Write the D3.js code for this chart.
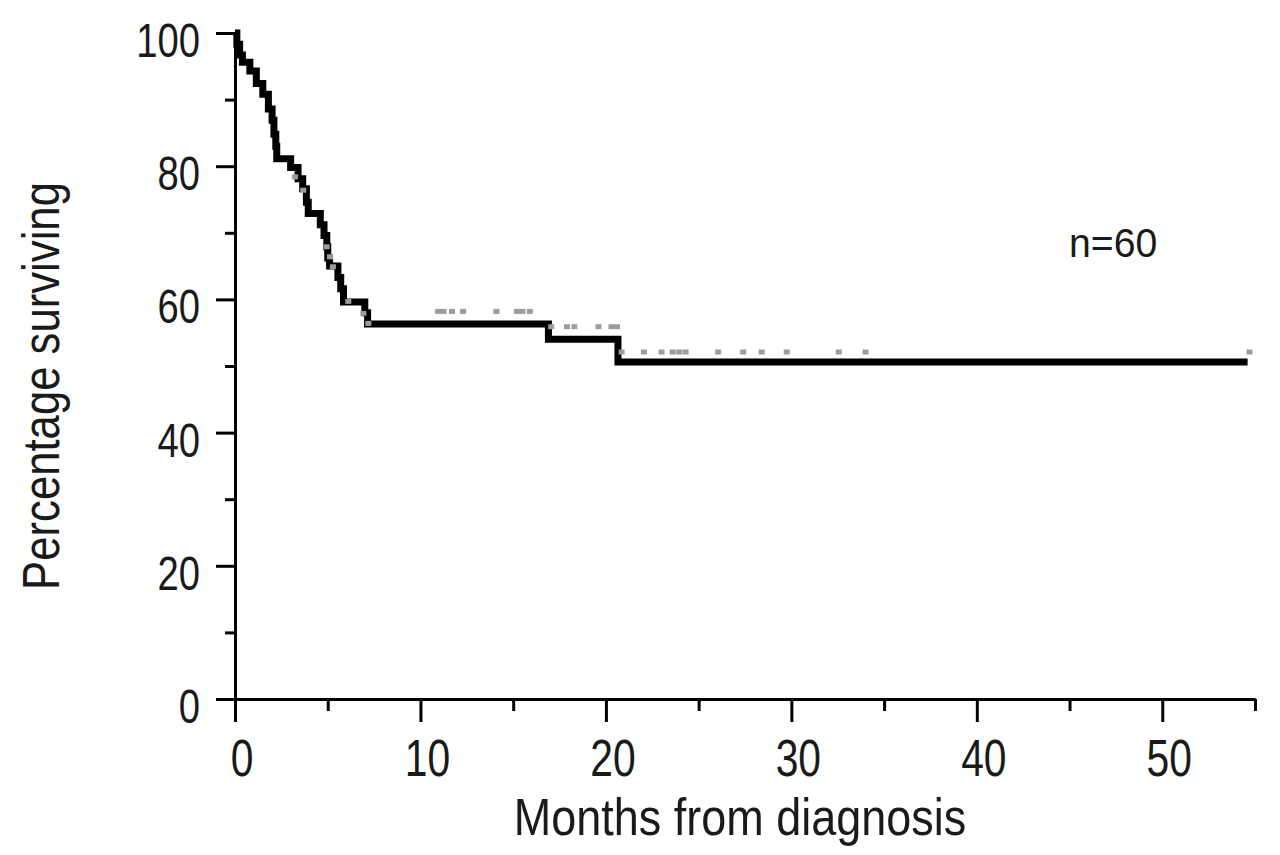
<!DOCTYPE html>
<html><head><meta charset="utf-8">
<script src="https://cdn.jsdelivr.net/npm/d3@7"></script>
<style>body{margin:0;background:#fff} svg{display:block}</style>
</head><body><svg id="c" width="1280" height="855"></svg>
<script>
// ---- data ----
const stepTimes  = [0, 0.1, 0.25, 0.4, 0.8, 1.15, 1.5, 1.8, 2.0, 2.1, 2.2, 2.25, 3.0, 3.4, 3.65, 3.85, 3.95, 4.6, 4.8, 4.95, 5.0, 5.1, 5.55, 5.7, 5.85, 7.0, 7.15, 16.9, 20.65, 54.6];
const stepValues = [100, 98.3, 96.7, 95.6, 94.3, 92.4, 90.8, 88.6, 86.9, 84.8, 83.0, 81.1, 79.8, 78.1, 76.6, 74.6, 72.9, 71.2, 69.6, 67.9, 66.2, 65.0, 63.3, 61.6, 59.6, 58.0, 56.3, 54.0, 50.6, 50.6];
const censorTimes  = [3.24, 3.68, 4.94, 5.12, 5.28, 6.11, 6.92, 7.19,
                      10.95, 11.25, 11.7, 12.3, 14.1, 15.2, 15.5, 15.9,
                      17.05, 17.9, 18.3, 19.6, 20.3, 20.6,
                      20.85, 22.05, 23.0, 23.6, 23.95, 24.3, 26.05, 27.4, 28.4, 29.75, 32.55, 34.0, 54.7];
const censorValues = [78.4, 76.4, 67.9, 66.4, 64.9, 59.7, 57.9, 56.4,
                      58.2, 58.2, 58.2, 58.2, 58.2, 58.2, 58.2, 58.2,
                      55.9, 55.9, 55.9, 55.9, 55.9, 55.9,
                      52.1, 52.1, 52.1, 52.1, 52.1, 52.1, 52.1, 52.1, 52.1, 52.1, 52.1, 52.1, 52.1];
const xMajorTicks = [0, 10, 20, 30, 40, 50];
const xMinorTicks = [5, 15, 25, 35, 45, 55];
const yMajorTicks = [0, 20, 40, 60, 80, 100];
const yMinorTicks = [10, 30, 50, 70, 90];
const xTitle = "Months from diagnosis";
const yTitle = "Percentage surviving";
const annotation = "n=60";

// ---- drawing ----
const svg = d3.select("#c");
const x = d3.scaleLinear().domain([0, 55]).range([235, 1255]);
const y = d3.scaleLinear().domain([0, 100]).range([699, 33]);
const font = "'Liberation Sans',Arial,Helvetica,sans-serif";

function styleAxis(g) {
  g.selectAll("path.domain").attr("stroke", "#000").attr("stroke-width", 3);
  g.selectAll(".tick line").attr("stroke", "#000").attr("stroke-width", 3);
  g.selectAll("text").remove();
}

// x axis
svg.append("g").attr("transform", `translate(0,${y(0)})`)
  .call(d3.axisBottom(x).tickValues(xMinorTicks).tickSize(12).tickSizeOuter(0))
  .call(styleAxis);
svg.append("g").attr("transform", `translate(0,${y(0)})`)
  .call(d3.axisBottom(x).tickValues(xMajorTicks).tickSize(23).tickSizeOuter(0))
  .call(styleAxis);
// y axis
svg.append("g").attr("transform", `translate(${x(0)},0)`)
  .call(d3.axisLeft(y).tickValues(yMinorTicks).tickSize(10).tickSizeOuter(0))
  .call(styleAxis);
svg.append("g").attr("transform", `translate(${x(0)},0)`)
  .call(d3.axisLeft(y).tickValues(yMajorTicks).tickSize(19).tickSizeOuter(0))
  .call(styleAxis);

// tick labels (condensed look via horizontal scaling)
svg.append("g").selectAll("text").data(xMajorTicks).join("text")
  .attr("transform", d => `translate(${x(d) + 7},776) scale(0.8,1)`)
  .attr("text-anchor", "middle")
  .attr("font-family", font).attr("font-size", 51).attr("fill", "#1a1a1a")
  .text(d => d);
svg.append("g").selectAll("text").data(yMajorTicks).join("text")
  .attr("transform", d => `translate(200,${y(d) + 24}) scale(0.78,1)`)
  .attr("text-anchor", "end")
  .attr("font-family", font).attr("font-size", 49).attr("fill", "#1a1a1a")
  .text(d => d);

// titles
svg.append("text")
  .attr("transform", "translate(740,835) scale(0.865,1)")
  .attr("text-anchor", "middle")
  .attr("font-family", font).attr("font-size", 52).attr("fill", "#1a1a1a")
  .text(xTitle);
svg.append("text")
  .attr("transform", "translate(59,386) rotate(-90) scale(0.84,1)")
  .attr("text-anchor", "middle")
  .attr("font-family", font).attr("font-size", 52).attr("fill", "#1a1a1a")
  .text(yTitle);
svg.append("text")
  .attr("transform", "translate(1069,257) scale(0.98,1)")
  .attr("font-family", font).attr("font-size", 40).attr("fill", "#1a1a1a")
  .text(annotation);

// survival curve
const pts = stepTimes.map((t, i) => [t, stepValues[i]]);
svg.append("path")
  .attr("d", d3.line().x(d => x(d[0])).y(d => y(d[1])).curve(d3.curveStepAfter)(pts))
  .attr("fill", "none").attr("stroke", "#000").attr("stroke-width", 7)
  .attr("stroke-linejoin", "miter");

// censor marks
const cens = censorTimes.map((t, i) => [t, censorValues[i]]);
svg.append("g").selectAll("rect").data(cens).join("rect")
  .attr("x", d => x(d[0]) - 3).attr("y", d => y(d[1]) - 2.5)
  .attr("width", 6).attr("height", 5)
  .attr("fill", "#9c9c9c");
</script>
</body></html>
